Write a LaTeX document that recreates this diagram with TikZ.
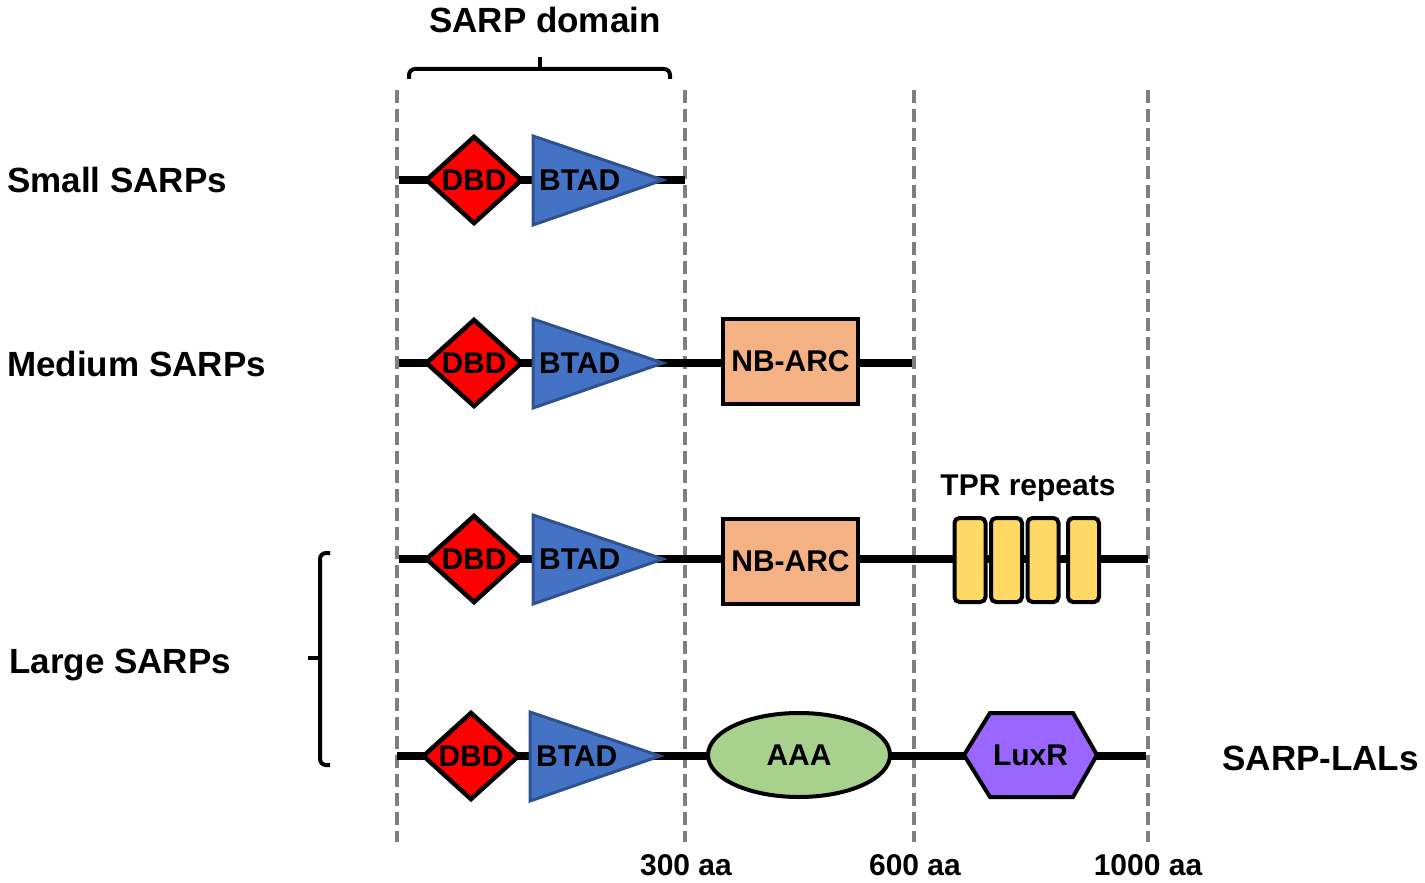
\documentclass[tikz,border=0pt]{standalone}
\usepackage{fontspec}
\setmainfont{Liberation Sans}
\usetikzlibrary{shapes.geometric}
\definecolor{dashgray}{HTML}{7F7F7F}
\definecolor{dbdred}{HTML}{FF0000}
\definecolor{btadblue}{HTML}{4472C4}
\definecolor{btadedge}{HTML}{2F528F}
\definecolor{nbarc}{HTML}{F4B183}
\definecolor{tpr}{HTML}{FFD966}
\definecolor{aaa}{HTML}{A9D18E}
\definecolor{luxr}{HTML}{9966FF}
\newcommand{\bigfont}{\fontsize{35}{42}\selectfont\bfseries}
\newcommand{\smallfont}{\fontsize{30}{35}\selectfont\bfseries}
\tikzset{
  backbone/.style={line width=8, black},
  guide/.style={draw=dashgray, line width=4.5, dash pattern=on 13 off 6},
  bracket/.style={line width=4, black, rounded corners=6},
  dbdbox/.style={diamond, draw=black, fill=dbdred, line width=4.5, minimum width=97, minimum height=88, inner sep=0, font=\smallfont},
  btadshape/.style={draw=btadedge, fill=btadblue, line width=3, line join=miter},
  lbl/.style={font=\smallfont, inner sep=0},
  rowlbl/.style={font=\bigfont, inner sep=0},
  nbbox/.style={rectangle, draw=black, fill=nbarc, line width=4, minimum width=135, minimum height=85, inner sep=0, font=\smallfont},
  tprbox/.style={rectangle, draw=black, fill=tpr, line width=4, rounded corners=5, minimum width=31, minimum height=84, inner sep=0},
  aaabox/.style={ellipse, draw=black, fill=aaa, line width=4, minimum width=182, minimum height=84, inner sep=0, font=\smallfont},
  luxrshape/.style={draw=black, fill=luxr, line width=4, line join=miter}
}
\begin{document}
\begin{tikzpicture}[x=1pt,y=-1pt]
\useasboundingbox (0,0) rectangle (1425,883);
% guides
\coordinate (g0t) at (397,90);   \coordinate (g0b) at (397,842);
\coordinate (g1t) at (685,90);   \coordinate (g1b) at (685,842);
\coordinate (g2t) at (914,90);   \coordinate (g2b) at (914,842);
\coordinate (g3t) at (1148,90);  \coordinate (g3b) at (1148,842);
\draw[guide] (g0t) -- (g0b);
\draw[guide] (g1t) -- (g1b);
\draw[guide] (g2t) -- (g2b);
\draw[guide] (g3t) -- (g3b);
% backbones
\coordinate (s1) at (399,180);  \coordinate (e1) at (685,180);
\coordinate (s2) at (399,363);  \coordinate (e2) at (912,363);
\coordinate (s3) at (399,559);  \coordinate (e3) at (1148,559);
\coordinate (s4) at (397,756);  \coordinate (e4) at (1146,756);
\draw[backbone] (s1) -- (e1);
\draw[backbone] (s2) -- (e2);
\draw[backbone] (s3) -- (e3);
\draw[backbone] (s4) -- (e4);
% SARP domain (DBD + BTAD) for each row
\foreach \r/\yy/\dx in {1/180/0, 2/363/0, 3/559/0, 4/756/-3} {
  \node[dbdbox] (dbd\r) at (474+\dx,\yy) {DBD};
  \draw[btadshape] (533+\dx,\yy-44) -- (663+\dx,\yy) -- (533+\dx,\yy+45) -- cycle;
  \node[lbl, anchor=west] (btad\r) at (539+\dx,\yy) {BTAD};
}
% NB-ARC
\node[nbbox] (nb2) at (790.5,361.5) {NB-ARC};
\node[nbbox] (nb3) at (790.5,561) {NB-ARC};
% TPR repeats
\node[tprbox] (tpr1) at (970,560) {};
\node[tprbox] (tpr2) at (1006.5,560) {};
\node[tprbox] (tpr3) at (1043,560) {};
\node[tprbox] (tpr4) at (1083.5,560) {};
\node[lbl, anchor=base] (tprlbl) at (1028,495) {TPR repeats};
% AAA
\node[aaabox] (aaa4) at (799,755) {AAA};
% LuxR
\draw[luxrshape] (964,755) -- (990,713) -- (1073,713) -- (1097,755) -- (1073,797) -- (990,797) -- cycle;
\node[lbl] (luxr4) at (1030.5,755) {LuxR};
% SARP domain brace
\coordinate (bl) at (409,79);
\coordinate (bm) at (540,69);
\coordinate (br) at (670,79);
\coordinate (btip) at (540,57);
\draw[bracket] (bl) |- (bm) -| (br);
\draw[line width=4] (bm) -- (btip);
\node[rowlbl, anchor=base] (sarpdom) at (545,33) {SARP domain};
% Large SARPs brace
\coordinate (lt) at (330,553);
\coordinate (lb) at (330,765);
\coordinate (lm) at (320,658);
\coordinate (ltip) at (308,658);
\draw[bracket] (lt) -- (320,553) -- (320,765) -- (lb);
\draw[line width=4] (lm) -- (ltip);
% row labels
\node[rowlbl, anchor=base west] (small) at (7,192) {Small SARPs};
\node[rowlbl, anchor=base west] (medium) at (7,376) {Medium SARPs};
\node[rowlbl, anchor=base west] (large) at (9,673) {Large SARPs};
\node[rowlbl, anchor=base east] (lals) at (1419,770) {SARP-LALs};
% axis labels
\node[lbl, anchor=base] (a300) at (686,875) {300 aa};
\node[lbl, anchor=base] (a600) at (915,875) {600 aa};
\node[lbl, anchor=base] (a1000) at (1148,875) {1000 aa};
\end{tikzpicture}
\end{document}
